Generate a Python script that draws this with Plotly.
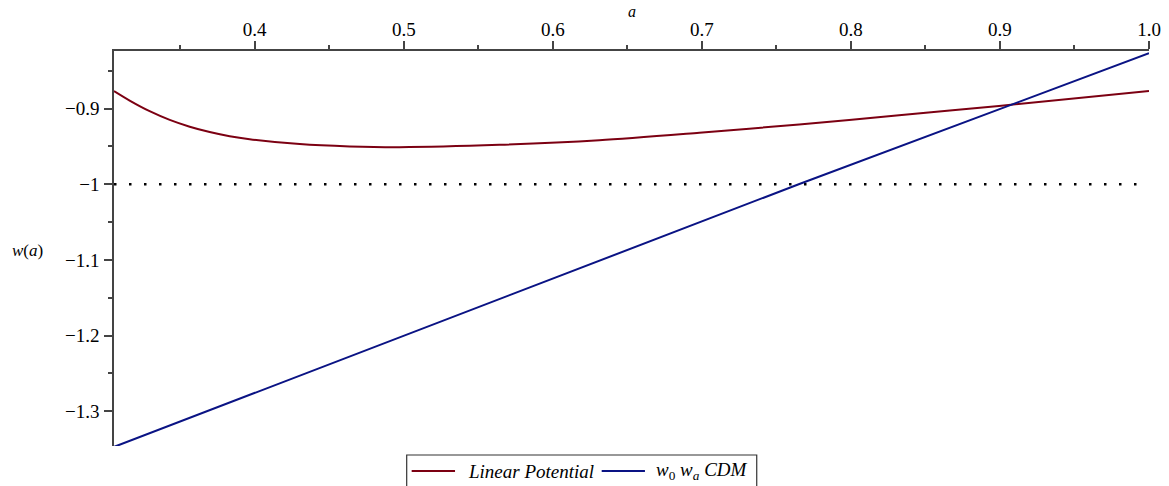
import plotly.graph_objects as go

# Linear potential w(a)
a_lin = [0.3056, 0.3161, 0.3295, 0.3430, 0.3564, 0.3698, 0.3832, 0.3966,
         0.4302, 0.4637, 0.4972, 0.5642, 0.6312, 0.6983, 0.7653, 0.8323,
         0.8993, 1.0]
w_lin = [-0.8770, -0.8895, -0.9035, -0.9150, -0.9240, -0.9310, -0.9365, -0.9405,
         -0.9470, -0.9500, -0.9510, -0.9480, -0.9420, -0.9320, -0.9210, -0.9090,
         -0.8965, -0.8770]

# w0 wa CDM (straight line)
a_cpl = [0.3056, 0.7650, 1.0]
w_cpl = [-1.347, -1.000, -0.827]

# phantom divide
a_ref = [0.3056, 1.0]
w_ref = [-1.0, -1.0]

x_ticks = [0.4, 0.5, 0.6, 0.7, 0.8, 0.9, 1.0]
x_labels = ["0.4", "0.5", "0.6", "0.7", "0.8", "0.9", "1.0"]
y_ticks = [-0.9, -1.0, -1.1, -1.2, -1.3]
y_labels = ["\u22120.9", "\u22121", "\u22121.1", "\u22121.2", "\u22121.3"]

names = ["<i>Linear Potential</i>", "<i>w</i><sub>0</sub> <i>w<sub>a</sub> CDM</i>"]

RED = "#7c0012"
BLUE = "#0a1384"
FONT = "Liberation Serif"

fig = go.Figure()
fig.add_trace(go.Scatter(x=a_ref, y=w_ref, mode="lines", showlegend=False,
                         line=dict(color="black", width=2.7, dash="2.5px,12.5px")))
fig.add_trace(go.Scatter(x=a_lin, y=w_lin, mode="lines", name=names[0], showlegend=False,
                         line=dict(color=RED, width=2, shape="spline", smoothing=0.8)))
fig.add_trace(go.Scatter(x=a_cpl, y=w_cpl, mode="lines", name=names[1], showlegend=False,
                         line=dict(color=BLUE, width=2)))

# legend drawn by hand below the axes (box runs past the bottom edge as in the original)
LY = -0.0633
shapes = [
    dict(type="rect", xref="paper", yref="paper", x0=0.2828, x1=0.6210, y0=-0.14, y1=-0.0228,
         line=dict(color="#333", width=1.2), fillcolor="white", layer="above"),
    dict(type="line", xref="paper", yref="paper", x0=0.2876, x1=0.3295, y0=LY, y1=LY,
         line=dict(color=RED, width=2)),
    dict(type="line", xref="paper", yref="paper", x0=0.4712, x1=0.5130, y0=LY, y1=LY,
         line=dict(color=BLUE, width=2)),
]

# the page body has an 8px margin, so the figure is a little smaller and shifted
fig.update_layout(
    width=1161, height=478,
    paper_bgcolor="white", plot_bgcolor="white",
    margin=dict(l=106, r=20, t=43, b=40, autoexpand=False),
    font=dict(family=FONT, size=19, color="black"),
    showlegend=False,
    shapes=shapes,
    xaxis=dict(side="top", range=[0.3056, 1.0], showgrid=False, zeroline=False,
               showline=True, linecolor="#444", linewidth=1.5,
               ticks="outside", ticklen=8, tickwidth=1.5, tickcolor="#444",
               tickvals=x_ticks, ticktext=x_labels, automargin=False,
               minor=dict(ticks="outside", ticklen=4, tickwidth=1.5, tickcolor="#444",
                          dtick=0.05, tick0=0.3, showgrid=False),
               tickfont=dict(family=FONT, size=19), ticklabelstandoff=-2),
    yaxis=dict(range=[-1.3458, -0.824], showgrid=False, zeroline=False,
               showline=True, linecolor="#444", linewidth=1.5,
               ticks="outside", ticklen=8, tickwidth=1.5, tickcolor="#444",
               tickvals=y_ticks, ticktext=y_labels, automargin=False,
               minor=dict(ticks="outside", ticklen=4, tickwidth=1.5, tickcolor="#444",
                          dtick=0.05, tick0=-1.0, showgrid=False),
               tickfont=dict(family=FONT, size=19), ticklabelstandoff=1),
    annotations=[
        dict(text="<i>a</i>", xref="paper", yref="paper", x=0.5, y=1.0, yshift=50,
             showarrow=False, font=dict(family=FONT, size=16)),
        dict(text="<i>w</i>(<i>a</i>)", xref="paper", yref="y", x=-0.1005, y=-1.087,
             showarrow=False, font=dict(family=FONT, size=17)),
        dict(text=names[0], xref="paper", yref="paper", x=0.3401, y=LY,
             xanchor="left", yanchor="middle", showarrow=False,
             font=dict(family=FONT, size=19)),
        dict(text=names[1], xref="paper", yref="paper", x=0.5217, y=LY,
             xanchor="left", yanchor="middle", showarrow=False,
             font=dict(family=FONT, size=19)),
    ],
)

fig.write_html("out.html")
